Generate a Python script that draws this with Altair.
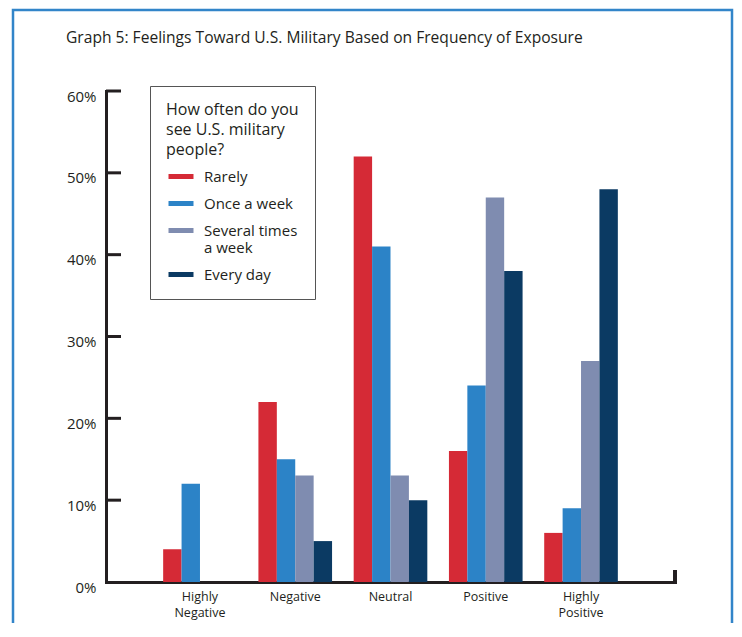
import altair as alt
import pandas as pd

# ---- data ----
categories = ["Highly Negative", "Negative", "Neutral", "Positive", "Highly Positive"]
series = ["Rarely", "Once a week", "Several times a week", "Every day"]
rarely = [4, 22, 52, 16, 6]
once_a_week = [12, 15, 41, 24, 9]
several_times = [0, 13, 13, 47, 27]
every_day = [0, 5, 10, 38, 48]
colors = ["#d52a36", "#2c83c7", "#7f8cb0", "#0b3a63"]
y_labels = [0, 10, 20, 30, 40, 50, 60]
y_ticks = [10, 20, 30, 40, 50, 60]
title_text = "Graph 5: Feelings Toward U.S. Military Based on Frequency of Exposure"
legend_title = ["How often do you", "see U.S. military", "people?"]

rows = []
for s, vals in zip(series, [rarely, once_a_week, several_times, every_day]):
    for c, v in zip(categories, vals):
        rows.append({"category": c, "series": s, "value": v})
df = pd.DataFrame(rows)

W, H = 569, 491
FONT = "Open Sans"
DARK = "#231f20"

y_axis = alt.Axis(title=None, values=y_labels, grid=False,
                  ticks=False, domainWidth=3, domainColor=DARK, domainCap="square",
                  labelFont=FONT, labelFontSize=15, labelColor=DARK,
                  labelPadding=10, labelOffset=5,
                  labelExpr="datum.value + '%'")
y_scale = alt.Scale(domain=[0, 60], nice=False)


def build(extra_legend):
    legend_kw = dict(
        title=legend_title, orient="none", legendX=44, legendY=-5,
        padding=16, strokeColor="#555555", fillColor="white",
        titleFont=FONT, titleFontSize=16, titleFontWeight="normal",
        titleColor=DARK, titleLineHeight=20, titlePadding=11,
        titleLimit=300,
        labelFont=FONT, labelFontSize=15, labelColor=DARK,
        labelLimit=300, labelOffset=23,
        labelExpr="datum.label == 'Several times a week' ? ['Several times', 'a week'] : datum.label",
        symbolType="M-1,-0.5H4V0.5H-1Z", symbolSize=100,
        symbolStrokeWidth=0, rowPadding=10)
    legend_kw.update(extra_legend)

    bars = alt.Chart(df).mark_bar().encode(
        x=alt.X("category:N", sort=categories,
                scale=alt.Scale(paddingInner=0.227, paddingOuter=0.6),
                axis=alt.Axis(title=None, labelAngle=0, ticks=False, domainWidth=3,
                              domainColor=DARK, domainCap="square",
                              labelFont=FONT, labelFontSize=12.5, labelColor=DARK,
                              labelPadding=8, labelBaseline="top", labelLineHeight=16,
                              labelLimit=200,
                              labelExpr="split(datum.label, ' ')")),
        xOffset=alt.XOffset("series:N", sort=series,
                            scale=alt.Scale(paddingInner=0, paddingOuter=0)),
        y=alt.Y("value:Q", scale=y_scale, axis=y_axis),
        color=alt.Color("series:N", sort=series,
                        scale=alt.Scale(domain=series, range=colors),
                        legend=alt.Legend(**legend_kw)),
    )

    tick_df = pd.DataFrame({"value": y_ticks})
    ticks = alt.Chart(tick_df).mark_rule(color=DARK, strokeWidth=3).encode(
        y=alt.Y("value:Q", scale=y_scale, axis=y_axis),
        x=alt.value(0), x2=alt.value(15),
    )

    end_tick = alt.Chart(tick_df).mark_rule(color=DARK, strokeWidth=3).encode(
        x=alt.value(W), y=alt.value(H - 12), y2=alt.value(H + 1.5),
    )

    title = alt.Chart(pd.DataFrame({"t": [title_text]})).mark_text(
        align="left", baseline="alphabetic", font=FONT, fontSize=15.6, color=DARK
    ).encode(text="t:N", x=alt.value(-40), y=alt.value(-47.7))

    frame = alt.Chart(pd.DataFrame({"t": [0]})).mark_rect(
        fill="transparent", stroke="#3285c9", strokeWidth=2.5
    ).encode(x=alt.value(-93), x2=alt.value(626), y=alt.value(-81), y2=alt.value(700))

    c = alt.layer(frame, title, bars, ticks, end_tick).resolve_scale(y="shared").properties(
        width=W, height=H,
        autosize=alt.AutoSizeParams(type="none"),
        padding={"left": 98, "top": 83, "right": 59, "bottom": 41},
    ).configure_view(stroke=None)
    c.to_dict()
    return c


try:
    chart = build({"encode": {"labels": {"update": {"lineHeight": {"value": 20}}}}})
except Exception:
    chart = build({"rowPadding": 11})

chart.save("out.html", embed_options={"renderer": "svg", "actions": False})
